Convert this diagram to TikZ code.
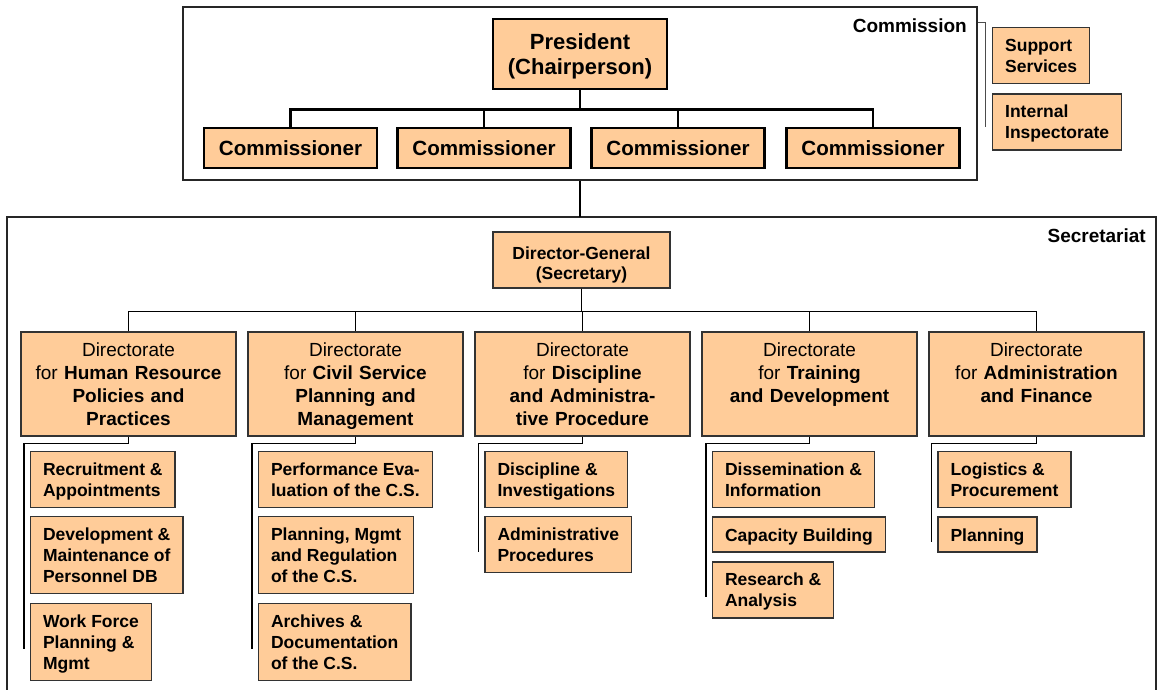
\documentclass[tikz,border=0pt]{standalone}
\usepackage{fontspec}
\setmainfont{Liberation Sans}
\usetikzlibrary{positioning}
\definecolor{peach}{RGB}{255,204,153}

\begin{document}
\begin{tikzpicture}[x=1pt,y=-1pt,
  outline/.style={draw=black!85,line width=1.2pt},
  topbox/.style={draw=black,line width=2.6pt,fill=peach,font=\bfseries\fontsize{20.6}{25.7}\selectfont},
  dgbox/.style={draw=black!80,line width=1.3pt,fill=peach,text width=160pt,align=center,inner xsep=8.5pt,inner ysep=8pt,text height=19pt,text depth=21pt,font=\bfseries\fontsize{17.5}{20}\selectfont},
  dirbox/.style={draw=black!80,line width=1.3pt,fill=peach,text width=200pt,align=center,inner xsep=7.5pt,inner ysep=8pt,text height=16.7pt,text depth=71.3pt,font=\fontsize{19}{22.8}\selectfont},
  subbox/.style={draw=black!80,line width=1.3pt,fill=peach,align=left,inner xsep=12.5pt,inner ysep=6pt,text height=18pt,text depth=5pt,font=\bfseries\fontsize{17.5}{21}\selectfont},
  two/.style={text height=39pt},
  three/.style={text height=60pt},
  tieline/.style={line width=2.6pt},
  link/.style={line width=1.5pt},
  tag/.style={font=\bfseries\fontsize{19}{22}\selectfont,inner sep=0pt,anchor=east}]

\useasboundingbox (0,0) rectangle (1159,690);

% commission
\node[outline,minimum width=794pt,minimum height=173pt] (comm) at (580,93.5) {};
\node[tag] (commtag) at (967,26) {Commission};
\node[topbox,text width=154pt,align=center,inner xsep=10pt,inner ysep=10pt,text height=20.3pt,text depth=29.7pt,font=\bfseries\fontsize{22}{25.7}\selectfont] (pres) at (580,54) {President\\(Chairperson)};

\foreach \i/\x in {1/290.5,2/484,3/678,4/873}{
    \node[topbox,minimum width=173pt,minimum height=40pt,inner sep=0pt] (com\i) at (\x,148) {Commissioner};
    \draw[tieline] (pres.south) -- ++(0,19) -| (com\i.north);
}

% support units beside the commission
\coordinate (brk) at (985,127);
\draw[line width=1pt,black!70] ([yshift=-16pt]comm.north east) -| (brk);
\node[subbox,two,anchor=north west] (supp) at (992,27) {Support\\Services};
\node[subbox,two,below right=9pt and 0pt of supp.south west] (insp) {Internal\\Inspectorate};

% secretariat
\coordinate (sectop) at (580,217);
\draw[outline] (7,690) |- (1156,217) -- (1156,690);
\draw[link] (comm.south) -- (sectop);
\node[tag] (sectag) at (1146,235.5) {Secretariat};
\node[dgbox] (dg) at (581.5,260) {Director-General\\(Secretary)};

\foreach \i/\x/\txt in {1/128.5/{Directorate\\for \textbf{Human Resource}\\\textbf{Policies and}\\\textbf{Practices}},
                        2/355.5/{Directorate\\for \textbf{Civil Service}\\\textbf{Planning and}\\\textbf{Management}},
                        3/582.5/{Directorate\\for \textbf{Discipline}\\\textbf{and Administra-}\\\textbf{tive Procedure}},
                        4/809.5/{Directorate\\for \textbf{Training}\\\textbf{and Development}},
                        5/1036.5/{Directorate\\for \textbf{Administration}\\\textbf{and Finance}}}{
    \node[dirbox] (d\i) at (\x,384) {\txt};
    \draw[link] (dg.south) -- ++(0,23) -| (d\i.north);
}

% units
\node[subbox,two,below right=14pt and 9.5pt of d1.south west] (hr1) {Recruitment \&\\Appointments};
\node[subbox,three,below right=8pt and 0pt of hr1.south west] (hr2) {Development \&\\Maintenance of\\Personnel DB};
\node[subbox,three,below right=8.5pt and 0pt of hr2.south west] (hr3) {Work Force\\Planning \&\\Mgmt};

\node[subbox,two,below right=14pt and 10.5pt of d2.south west] (cs1) {Performance Eva-\\luation of the C.S.};
\node[subbox,three,below right=8pt and 0pt of cs1.south west] (cs2) {Planning, Mgmt\\and Regulation\\of the C.S.};
\node[subbox,three,below right=8.5pt and 0pt of cs2.south west] (cs3) {Archives \&\\Documentation\\of the C.S.};

\node[subbox,two,below right=14pt and 10pt of d3.south west] (dp1) {Discipline \&\\Investigations};
\node[subbox,two,below right=8pt and 0pt of dp1.south west] (dp2) {Administrative\\Procedures};

\node[subbox,two,below right=14pt and 10.5pt of d4.south west] (td1) {Dissemination \&\\Information};
\node[subbox,below right=8.5pt and 0pt of td1.south west] (td2) {Capacity Building};
\node[subbox,two,below right=8.5pt and 0pt of td2.south west] (td3) {Research \&\\Analysis};

\node[subbox,two,below right=14pt and 9pt of d5.south west] (af1) {Logistics \&\\Procurement};
\node[subbox,below right=8.5pt and 0pt of af1.south west] (af2) {Planning};

\foreach \d/\s in {d1/hr3,d2/cs3,d3/dp2,d4/td3,d5/af2}{
    \coordinate (\s e) at ([xshift=-6pt,yshift=-7.5pt]\s.west);
    \draw[link] (\d.south) -- ++(0,7) -| (\s e);
}

\end{tikzpicture}
\end{document}
